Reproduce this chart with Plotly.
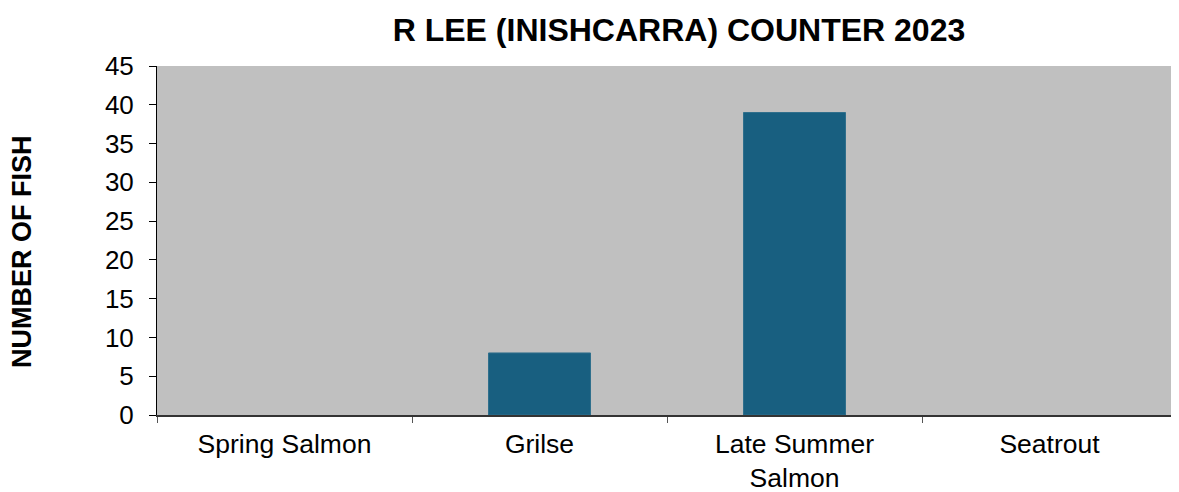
import plotly.graph_objects as go

categories = ["Spring Salmon", "Grilse", "Late Summer<br>Salmon", "Seatrout"]
counts = [0, 8, 39, 0]
y_ticks = [0, 5, 10, 15, 20, 25, 30, 35, 40, 45]

fig = go.Figure()
fig.add_trace(go.Bar(
    x=categories, y=counts,
    marker=dict(color="#185F80", line=dict(color="#2F6F8C", width=[0 if v == 0 else 1 for v in counts])),
    width=0.4,
))

font = "Liberation Sans, Arial, sans-serif"
fig.update_layout(
    width=1171, height=484,
    margin=dict(l=149, r=2, t=58, b=77),
    paper_bgcolor="white",
    plot_bgcolor="#C0C0C0",
    showlegend=False,
    title=dict(text="<b>R LEE (INISHCARRA) COUNTER 2023</b>",
               x=0.573, xanchor="center", y=0.955, yanchor="middle",
               font=dict(family=font, size=32, color="black")),
    font=dict(family=font, color="black"),
)
fig.add_annotation(
    text="<b>NUMBER OF FISH</b>", textangle=-90, showarrow=False,
    xref="paper", yref="paper", x=-0.1324, y=0.47, xanchor="center", yanchor="middle",
    font=dict(family=font, size=27, color="black"),
)
fig.update_xaxes(
    type="category", showgrid=False, ticks="outside", tickson="boundaries",
    ticklen=6, tickcolor="#555555", showline=True, linecolor="#333333", linewidth=2,
    tickfont=dict(size=26.5, color="black"), automargin=False, ticklabelstandoff=4,
)
fig.update_yaxes(
    range=[0, 45], tickvals=y_ticks, showgrid=False, zeroline=False,
    ticks="outside", ticklen=7, tickcolor="black", showline=True, linecolor="black",
    linewidth=1, tickfont=dict(size=26, color="black"), automargin=False,
    ticklabelstandoff=10,
)

fig.write_html("out.html")
